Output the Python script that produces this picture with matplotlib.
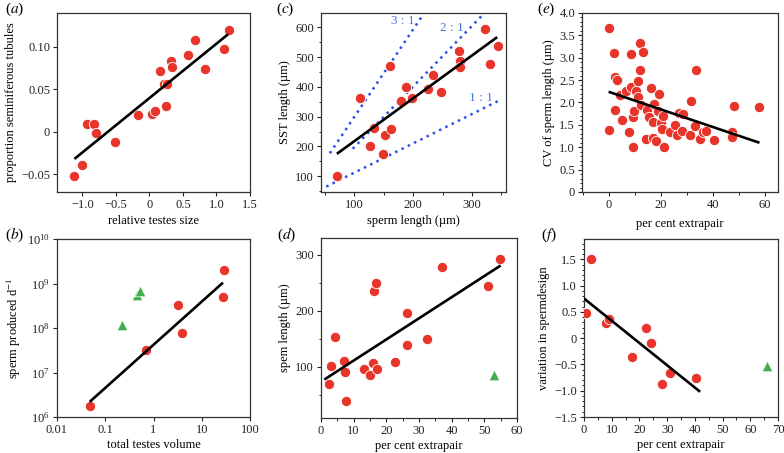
import numpy as np
import matplotlib
matplotlib.use("Agg")
from matplotlib import pyplot as plt
from matplotlib.ticker import MultipleLocator, FixedLocator, NullLocator, FuncFormatter

plt.rcParams['font.family'] = ['Liberation Serif', 'DejaVu Serif']
plt.rcParams['mathtext.fontset'] = 'stix'
plt.rcParams['font.size'] = 9

# (a) relative testes size vs proportion seminiferous tubules
a_x = [-1.12, -1.01, -0.93, -0.83, -0.80, -0.51, -0.17, 0.04, 0.075, 0.15, 0.21, 0.26,
       0.24, 0.32, 0.33, 0.577, 0.677, 0.83, 1.11, 1.19]
a_y = [-0.052, -0.039, 0.009, 0.009, -0.002, -0.012, 0.0195, 0.0207, 0.0246, 0.072, 0.056,
       0.056, 0.030, 0.084, 0.076, 0.0906, 0.1086, 0.074, 0.0977, 0.120]
a_fit_x = [-1.12, 1.174]
a_fit_y = [-0.032, 0.115]

# (b) total testes volume vs sperm produced per day (log-log)
b_x = [0.0486, 0.684, 3.18, 3.84, 28.6, 27.3]
b_y = [1.8e6, 3.19e7, 3.3e8, 7.6e7, 2.0e9, 5.0e8]
b_tri_x = [0.222, 0.447, 0.53]
b_tri_y = [1.15e8, 5.5e8, 6.8e8]
b_fit_x = [0.05, 26.3]
b_fit_y = [2.3e6, 1.0e9]

# (c) sperm length vs SST length
c_x = [70, 110, 133, 127, 152, 149, 162, 161, 180, 187, 198, 225, 234, 248, 278, 279,
       280, 323, 330, 344]
c_y = [102, 362, 261, 202, 237, 174, 257, 471, 351, 398, 364, 392, 440, 383, 520, 486,
       468, 595, 477, 537]
c_fit_x = [70, 343]
c_fit_y = [175, 567]
c_ref = {'3 : 1': ([58, 215], [177, 637]),
         '2 : 1': ([97, 316], [192, 637]),
         '1 : 1': ([52, 344], [65, 352])}
c_ref_lab = {'3 : 1': (183, 620), '2 : 1': (266, 598), '1 : 1': (315, 361)}

# (d) per cent extrapair vs sperm length
d_x = [2.36, 2.97, 4.41, 7.08, 7.38, 7.69, 13.3, 14.9, 15.8, 16.1, 16.9, 17.1, 22.6,
       26.3, 26.4, 32.6, 36.9, 51.2, 54.7]
d_y = [70, 101, 153, 111, 91, 40, 96, 85, 107, 235, 250, 96, 108, 140, 197, 150, 278,
       244, 292]
d_tri_x = [53.1]
d_tri_y = [86]
d_fit_x = [1.0, 55.0]
d_fit_y = [77.5, 281]

# (e) per cent extrapair vs CV of sperm length
e_x = [0.1, 0.1, 1.9, 2.3, 2.6, 3.3, 4.5, 5.2, 6.8, 7.7, 8.6, 8.6, 9.3, 9.5, 9.8, 10.6,
       11.1, 11.2, 11.9, 11.9, 12.4, 13.3, 14.3, 14.9, 15.6, 16.3, 16.9, 17.0, 17.5, 18.1,
       18.8, 19.3, 20.3, 20.4, 20.7, 21.1, 23.4, 25.5, 26.4, 26.9, 28.0, 28.7, 31.3, 31.7,
       33.0, 33.7, 34.9, 36.1, 37.4, 40.5, 47.4, 47.4, 48.1, 57.7]
e_y = [3.66, 1.39, 3.11, 1.84, 2.56, 2.50, 2.16, 1.61, 2.26, 1.33, 3.08, 2.35, 1.68,
       1.00, 1.80, 2.25, 2.49, 2.12, 3.33, 2.73, 1.94, 3.12, 1.18, 1.83, 1.68, 2.32, 1.57,
       1.21, 1.97, 1.14, 1.80, 2.20, 1.54, 1.41, 1.69, 1.00, 1.33, 1.50, 1.27, 1.77, 1.36,
       1.75, 1.28, 2.04, 1.47, 2.72, 1.18, 1.35, 1.37, 1.17, 1.33, 1.23, 1.93, 1.91]
e_fit_x = [0, 57.9]
e_fit_y = [2.24, 1.10]

# (f) per cent extrapair vs variation in sperm design
f_x = [0.2, 0.6, 2.5, 7.8, 8.9, 17.2, 22.2, 24.2, 28.1, 31.1, 40.3]
f_y = [0.48, 0.48, 1.50, 0.29, 0.37, -0.35, 0.20, -0.09, -0.88, -0.67, -0.76]
f_tri_x = [66.1]
f_tri_y = [-0.53]
f_fit_x = [0, 41.9]
f_fit_y = [0.757, -1.02]

red = '#e8352b'
green = '#3fae4f'
blue = '#2f50e8'
spine_col = '#333333'

fig = plt.figure(figsize=(7.84, 4.53), dpi=100)
W, H = 784, 453


def make_ax(x0, x1, y0, y1):
    ax = fig.add_axes([x0 / W, 1 - y1 / H, (x1 - x0) / W, (y1 - y0) / H])
    for s in ax.spines.values():
        s.set_color(spine_col)
        s.set_linewidth(0.9)
    ax.tick_params(direction='out', length=3, width=0.8, labelsize=9, colors='#222222',
                   pad=2)
    ax.tick_params(which='minor', direction='out', length=1.8, width=0.6)
    return ax


def dots(ax, x, y):
    ax.scatter(x, y, s=55, color=red, edgecolors='white', linewidths=0.6, zorder=3)


def tris(ax, x, y):
    ax.scatter(x, y, s=58, marker='^', color=green, edgecolors='white', linewidths=0.5,
               zorder=3)


def fit(ax, x, y):
    ax.plot(x, y, color='black', lw=1.9, zorder=4, solid_capstyle='butt')


# (a)
ax = make_ax(57, 250, 13, 192)
dots(ax, a_x, a_y)
fit(ax, a_fit_x, a_fit_y)
ax.set_xlim(-1.38, 1.5)
ax.set_ylim(-0.071, 0.14)
ax.xaxis.set_major_locator(MultipleLocator(0.5))
ax.yaxis.set_major_locator(MultipleLocator(0.05))
ax.xaxis.set_major_formatter(FuncFormatter(lambda v, p: '0' if abs(v) < 1e-9 else ('%.1f' % v).replace('-', '\u2212')))
ax.yaxis.set_major_formatter(FuncFormatter(lambda v, p: '0' if abs(v) < 1e-9 else ('%.2f' % v).replace('-', '\u2212')))
ax.set_xlabel('relative testes size', labelpad=3)
ax.set_ylabel('proportion seminiferous tubules', labelpad=3)

# (b)
ax = make_ax(57, 250, 239, 417)
dots(ax, b_x, b_y)
tris(ax, b_tri_x, b_tri_y)
ax.plot(b_fit_x, b_fit_y, color='black', lw=1.9, zorder=4)
ax.set_xscale('log')
ax.set_yscale('log')
ax.set_xlim(0.01, 100)
ax.set_ylim(1e6, 1e10)
ax.xaxis.set_major_locator(FixedLocator([0.01, 0.1, 1, 10, 100]))
ax.xaxis.set_minor_locator(NullLocator())
ax.yaxis.set_minor_locator(NullLocator())
ax.xaxis.set_major_formatter(FuncFormatter(lambda v, p: '%g' % v))
ax.set_xlabel('total testes volume', labelpad=2)
ax.set_ylabel('sperm produced d$^{-1}$', labelpad=3)

# (c)
ax = make_ax(321, 506, 13, 192)
for key, (rx, ry) in c_ref.items():
    ax.plot(rx, ry, color=blue, lw=1.8, ls=(0, (1, 1.8)), zorder=2)
    tx, ty = c_ref_lab[key]
    ax.text(tx, ty, key, color='#4a78e0', fontsize=9.5, ha='center', va='center')
dots(ax, c_x, c_y)
fit(ax, c_fit_x, c_fit_y)
ax.set_xlim(43, 358)
ax.set_ylim(47, 648)
ax.xaxis.set_major_locator(MultipleLocator(100))
ax.xaxis.set_minor_locator(MultipleLocator(50))
ax.yaxis.set_major_locator(MultipleLocator(100))
ax.yaxis.set_minor_locator(MultipleLocator(50))
ax.set_xlabel('sperm length (\u00b5m)', labelpad=3)
ax.set_ylabel('SST length (\u00b5m)', labelpad=3)

# (d)
ax = make_ax(321, 517, 238, 418)
dots(ax, d_x, d_y)
tris(ax, d_tri_x, d_tri_y)
fit(ax, d_fit_x, d_fit_y)
ax.set_xlim(0, 60)
ax.set_ylim(9, 330)
ax.xaxis.set_major_locator(MultipleLocator(10))
ax.xaxis.set_minor_locator(MultipleLocator(5))
ax.yaxis.set_major_locator(FixedLocator([100, 200, 300]))
ax.yaxis.set_minor_locator(FixedLocator([50, 150, 250]))
ax.set_xlabel('per cent extrapair', labelpad=2)
ax.set_ylabel('spem length (\u00b5m)', labelpad=3)

# (e)
ax = make_ax(582, 778, 13, 192)
dots(ax, e_x, e_y)
fit(ax, e_fit_x, e_fit_y)
ax.set_xlim(-10.2, 65)
ax.set_ylim(0, 4.0)
ax.xaxis.set_major_locator(MultipleLocator(20))
ax.xaxis.set_minor_locator(MultipleLocator(10))
ax.yaxis.set_major_locator(MultipleLocator(0.5))
ax.yaxis.set_minor_locator(MultipleLocator(0.1))
ax.yaxis.set_major_formatter(FuncFormatter(lambda v, p: '0' if abs(v) < 1e-9 else '%.1f' % v))
ax.set_xlabel('per cent extrapair', labelpad=5)
ax.set_ylabel('CV of sperm length (\u00b5m)', labelpad=3)

# (f)
ax = make_ax(584, 778, 239, 417)
dots(ax, f_x, f_y)
tris(ax, f_tri_x, f_tri_y)
fit(ax, f_fit_x, f_fit_y)
ax.set_xlim(0, 70)
ax.set_ylim(-1.5, 1.89)
ax.xaxis.set_major_locator(MultipleLocator(10))
ax.xaxis.set_minor_locator(MultipleLocator(5))
ax.yaxis.set_major_locator(MultipleLocator(0.5))
ax.yaxis.set_minor_locator(MultipleLocator(0.1))
ax.yaxis.set_major_formatter(FuncFormatter(lambda v, p: '0' if abs(v) < 1e-9 else ('%.1f' % v).replace('-', '\u2212')))
ax.set_xlabel('per cent extrapair', labelpad=2)
ax.set_ylabel('variation in spermdesign', labelpad=3)

# panel letters
for lab, px, py in [('a', 5, 9), ('c', 276, 9), ('e', 537, 9),
                    ('b', 5, 235), ('d', 277, 235), ('f', 541, 235)]:
    fig.text(px / W, 1 - py / H, '($\\it{%s}$)' % lab, fontsize=11, ha='left', va='center')

fig.savefig('out.png', dpi=100)
